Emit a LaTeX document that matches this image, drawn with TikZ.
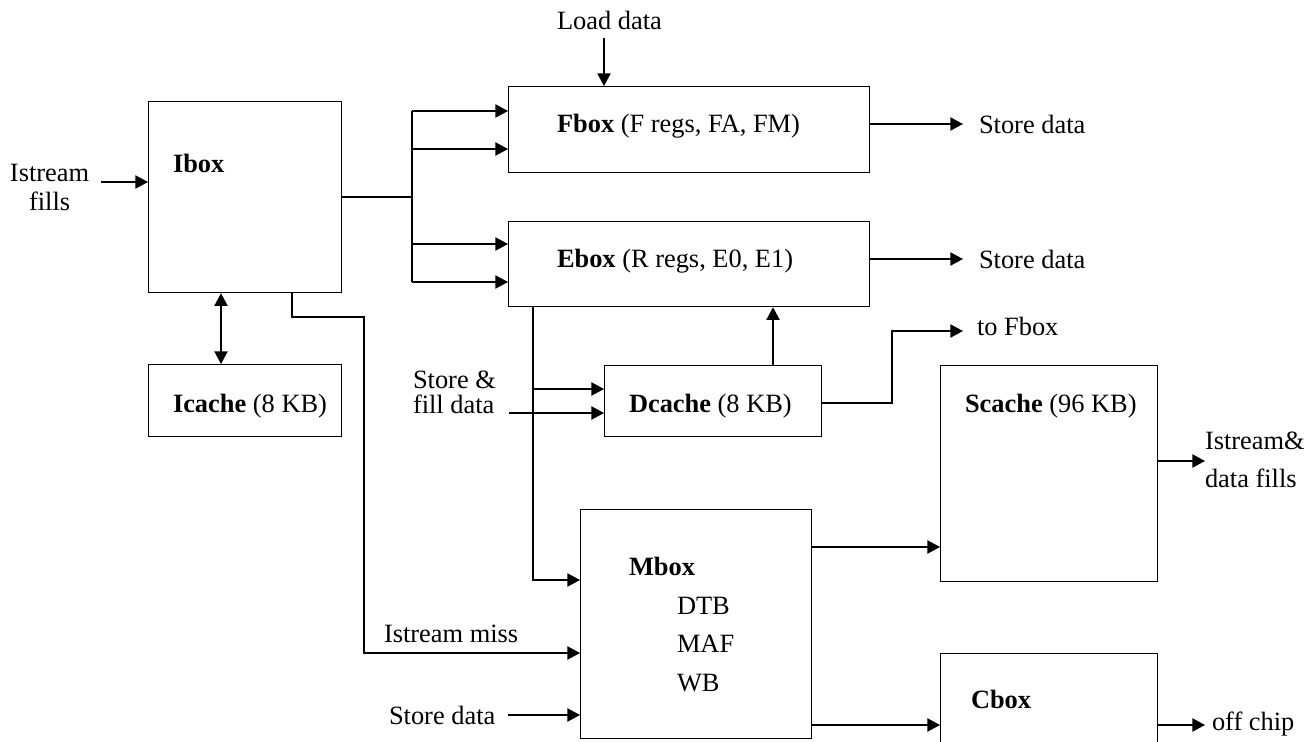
\documentclass[tikz,border=0pt]{standalone}
\usepackage{fontspec}
\setmainfont{Liberation Serif}
\usetikzlibrary{arrows.meta}

\tikzset{
  blk/.style={draw, line width=0.65pt, inner sep=0pt, anchor=north west},
  txt/.style={font=\fontsize{13.2}{15.8}\selectfont, inner sep=0pt, outer sep=0pt, anchor=base west},
  wire/.style={line width=0.65pt},
  sig/.style={wire, -{Triangle[length=6.3pt,width=6.6pt]}},
  sigboth/.style={wire, {Triangle[length=6.3pt,width=6.6pt]}-{Triangle[length=6.3pt,width=6.6pt]}},
}

\begin{document}
\begin{tikzpicture}[x=0.5pt, y=-0.5pt]
\useasboundingbox (0,0) rectangle (1312,742);

% Boxes
\node[blk, minimum width=96.5pt, minimum height=95.5pt] (ibox) at (148,101) {};
\node[blk, minimum width=96.5pt, minimum height=36pt] (icache) at (148,364) {};
\node[blk, minimum width=180.5pt, minimum height=43pt] (fbox) at (508,86) {};
\node[blk, minimum width=180.5pt, minimum height=42.5pt] (ebox) at (508,221) {};
\node[blk, minimum width=108.5pt, minimum height=35.5pt] (dcache) at (604,365) {};
\node[blk, minimum width=115.5pt, minimum height=114.5pt] (mbox) at (580,509) {};
\node[blk, minimum width=108.5pt, minimum height=108pt] (scache) at (940,365) {};
\begin{scope}
\clip (0,0) rectangle (1312,742);
\node[blk, minimum width=108.5pt, minimum height=60pt] (cbox) at (940,653) {};
\end{scope}

% Box texts
\node[txt] (iboxtxt) at (173,173) {\textbf{Ibox}};
\node[txt] (icachetxt) at (173,413) {\textbf{Icache} (8 KB)};
\node[txt] (fboxtxt) at (557,133) {\textbf{Fbox} (F regs, FA, FM)};
\node[txt] (eboxtxt) at (557,268) {\textbf{Ebox} (R regs, E0, E1)};
\node[txt] (dcachetxt) at (629,413) {\textbf{Dcache} (8 KB)};
\node[txt] (mboxtxt) at (629,576) {\textbf{Mbox}};
\node[txt, align=left, font=\fontsize{13.2}{19.2}\selectfont] (mboxparts) at (677,691) {DTB\\MAF\\WB};
\node[txt] (scachetxt) at (965,413) {\textbf{Scache} (96 KB)};
\node[txt] (cboxtxt) at (971,709) {\textbf{Cbox}};

% Outside labels
\node[txt, align=center] (isfill) at (10,211) {Istream\\[-1.3pt]fills};
\node[txt] (load) at (557,30) {Load data};
\node[txt] (fstore) at (979,134) {Store data};
\node[txt] (estore) at (979,269) {Store data};
\node[txt] (tofbox) at (977,336) {to Fbox};
\node[txt, align=left] (sfill) at (413,414) {Store \&\\[-3.3pt]fill data};
\node[txt, align=left] (sfills) at (1205,488) {Istream\&\\[3.2pt]data fills};
\node[txt] (ismiss) at (384,643) {Istream miss};
\node[txt] (mstore) at (389,725) {Store data};
\node[txt] (offchip) at (1212,730) {off chip};

% Ibox to Fbox and Ebox
\coordinate (bus) at (412,197);
\draw[wire] (ibox.east |- bus) -- (bus);
\draw[wire] (bus |- 0,111) -- (bus |- 0,282);
\foreach \y in {111,149} \draw[sig] (bus |- 0,\y) -- (fbox.west |- 0,\y);
\foreach \y in {244,282} \draw[sig] (bus |- 0,\y) -- (ebox.west |- 0,\y);

% Inputs
\draw[sig, shorten <=6pt] (isfill.east |- 0,182) -- (ibox.west |- 0,182);
\draw[sig, shorten <=4pt] (load.south -| 604,0) -- (fbox.north -| 604,0);
\draw[sig, shorten <=6.5pt] (sfill.east |- 0,413) -- (dcache.west |- 0,413);
\draw[sig, shorten <=6.5pt] (mstore.east |- 0,715) -- (mbox.west |- 0,715);

% Ibox, Icache
\draw[sigboth] (ibox.south -| 221,0) -- (icache.north -| 221,0);
\draw[sig] (ibox.south -| 292,0) |- (364,317) |- (mbox.west |- 0,653);

% Ebox, Dcache, Mbox
\draw[sig] (ebox.south -| 533,0) |- (mbox.west |- 0,580);
\draw[sig] (533,389) -- (dcache.west |- 0,389);
\draw[sig] (dcache.north -| 773,0) -- (ebox.south -| 773,0);
\draw[sig, shorten >=7pt] (dcache.east |- 0,403) -| (892,331) -- (tofbox.west |- 0,331);

% Outputs
\draw[sig, shorten >=8pt] (fbox.east |- 0,124) -- (fstore.west |- 0,124);
\draw[sig, shorten >=8pt] (ebox.east |- 0,259) -- (estore.west |- 0,259);
\draw[sig] (mbox.east |- 0,547) -- (scache.west |- 0,547);
\draw[sig] (mbox.east |- 0,725) -- (cbox.west |- 0,725);
\draw[sig] (scache.east |- 0,461) -- (sfills.west |- 0,461);
\draw[sig, shorten >=3.5pt] (cbox.east |- 0,725) -- (offchip.west |- 0,725);
\end{tikzpicture}
\end{document}
